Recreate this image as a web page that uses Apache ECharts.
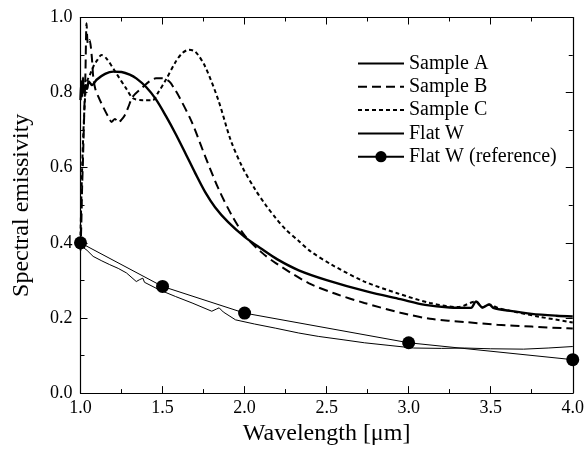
<!DOCTYPE html>
<html>
<head>
<meta charset="utf-8">
<script src="https://cdn.jsdelivr.net/npm/echarts@6/dist/echarts.min.js"></script>
<style>
  html, body { margin: 0; padding: 0; background: #fff; }
  #main { width: 587px; height: 451px; }
</style>
</head>
<body>
<div id="main"></div>
<script>
// values
const aWl = [1.0, 1.005, 1.01, 1.015, 1.02, 1.03, 1.04, 1.05, 1.07, 1.1, 1.15, 1.2, 1.25, 1.3, 1.34, 1.4, 1.46, 1.52, 1.58, 1.64, 1.7, 1.76, 1.82, 1.9, 2.0, 2.1, 2.2, 2.33, 2.5, 2.75, 2.95, 3.1, 3.25, 3.38, 3.41, 3.45, 3.49, 3.52, 3.6, 3.75, 3.9, 4.0];
const aEm = [0.78, 0.83, 0.79, 0.84, 0.8, 0.82, 0.81, 0.83, 0.82, 0.835, 0.85, 0.856, 0.855, 0.848, 0.838, 0.815, 0.782, 0.738, 0.69, 0.638, 0.585, 0.535, 0.495, 0.455, 0.416, 0.385, 0.356, 0.327, 0.301, 0.27, 0.25, 0.235, 0.228, 0.227, 0.244, 0.228, 0.236, 0.226, 0.22, 0.211, 0.206, 0.204];

const bWl = [1.0, 1.005, 1.01, 1.015, 1.02, 1.025, 1.03, 1.037, 1.045, 1.055, 1.068, 1.078, 1.09, 1.108, 1.14, 1.17, 1.19, 1.21, 1.23, 1.25, 1.27, 1.29, 1.32, 1.38, 1.42, 1.46, 1.5, 1.54, 1.57, 1.6, 1.68, 1.76, 1.84, 1.92, 2.0, 2.1, 2.19, 2.39, 2.55, 2.73, 2.95, 3.13, 3.35, 3.54, 3.75, 3.94, 4.0];
const bEm = [0.38, 0.45, 0.55, 0.62, 0.7, 0.78, 0.85, 0.985, 0.93, 0.94, 0.9, 0.84, 0.81, 0.79, 0.76, 0.735, 0.722, 0.73, 0.72, 0.728, 0.74, 0.76, 0.79, 0.815, 0.83, 0.838, 0.838, 0.83, 0.812, 0.79, 0.72, 0.63, 0.545, 0.475, 0.42, 0.376, 0.346, 0.293, 0.265, 0.24, 0.214, 0.198, 0.189, 0.182, 0.177, 0.173, 0.172];

const cWl = [1.0, 1.01, 1.02, 1.03, 1.04, 1.06, 1.078, 1.1, 1.128, 1.16, 1.22, 1.28, 1.32, 1.38, 1.44, 1.47, 1.52, 1.58, 1.62, 1.66, 1.70, 1.76, 1.84, 1.915, 1.985, 2.066, 2.13, 2.19, 2.25, 2.33, 2.4, 2.53, 2.73, 2.93, 3.13, 3.3, 3.41, 3.45, 3.49, 3.55, 3.64, 3.8, 4.0];
const cEm = [0.42, 0.6, 0.72, 0.8, 0.83, 0.85, 0.869, 0.885, 0.9, 0.89, 0.85, 0.81, 0.785, 0.78, 0.78, 0.798, 0.834, 0.882, 0.905, 0.914, 0.909, 0.869, 0.78, 0.674, 0.603, 0.541, 0.5, 0.466, 0.436, 0.405, 0.378, 0.342, 0.297, 0.266, 0.24, 0.229, 0.244, 0.228, 0.236, 0.226, 0.217, 0.203, 0.188];

const wWl = [1.0, 1.01, 1.04, 1.077, 1.13, 1.178, 1.23, 1.28, 1.34, 1.36, 1.37, 1.38, 1.39, 1.4, 1.48, 1.58, 1.68, 1.8, 1.83, 1.845, 1.87, 1.945, 2.06, 2.187, 2.33, 2.449, 2.6, 2.73, 2.88, 3.03, 3.2, 3.34, 3.5, 3.7, 3.85, 4.0];
const wEm = [0.4, 0.39, 0.38, 0.364, 0.352, 0.342, 0.332, 0.32, 0.297, 0.302, 0.298, 0.306, 0.295, 0.293, 0.275, 0.257, 0.24, 0.218, 0.224, 0.227, 0.216, 0.195, 0.184, 0.173, 0.16, 0.151, 0.142, 0.134, 0.127, 0.12, 0.119, 0.12, 0.118, 0.117, 0.12, 0.124];

const refWl = [1.0, 1.5, 2.0, 3.0, 4.0];
const refEm = [0.4, 0.284, 0.213, 0.134, 0.089];

const xTickLabels = ['1.0', '1.5', '2.0', '2.5', '3.0', '3.5', '4.0'];
const yTickLabels = ['0.0', '0.2', '0.4', '0.6', '0.8', '1.0'];

const pairs = (xs, ys) => xs.map((x, i) => [x, ys[i]]);
const font = '"Liberation Serif", "Times New Roman", serif';

const tick = { show: true, inside: true, length: 7, lineStyle: { color: '#000', width: 1 } };
const minor = { show: true, splitNumber: 2, length: 4, lineStyle: { color: '#000', width: 1 } };
const axLine = { show: true, onZero: false, lineStyle: { color: '#000', width: 1.2 } };

const xBase = { type: 'value', min: 1, max: 4, interval: 0.5, axisLine: axLine, axisTick: tick, minorTick: minor, splitLine: { show: false } };
const yBase = { type: 'value', min: 0, max: 1, interval: 0.2, axisLine: axLine, axisTick: tick, minorTick: minor, splitLine: { show: false } };

const noDot = { color: 'rgba(0,0,0,0)', borderColor: 'rgba(0,0,0,0)', borderWidth: 0 };

const option = {
  animation: false,
  backgroundColor: '#fff',
  grid: { left: 80.5, right: 10.5, top: 17.5, bottom: 57.5 },
  xAxis: [
    Object.assign({}, xBase, {
      position: 'bottom',
      name: 'Wavelength [\u03bcm]', nameLocation: 'middle', nameGap: 28,
      nameTextStyle: { fontFamily: font, fontSize: 24, color: '#000' },
      axisLabel: { fontFamily: font, fontSize: 18, color: '#000', margin: 6,
        formatter: v => xTickLabels[Math.round((v - 1) / 0.5)] }
    }),
    Object.assign({}, xBase, { position: 'top', axisLabel: { show: false } })
  ],
  yAxis: [
    Object.assign({}, yBase, {
      position: 'left',
      name: 'Spectral emissivity', nameLocation: 'middle', nameGap: 47,
      nameTextStyle: { fontFamily: font, fontSize: 24, color: '#000' },
      axisLabel: { fontFamily: font, fontSize: 18, color: '#000', margin: 8,
        formatter: v => yTickLabels[Math.round(v / 0.2)] }
    }),
    Object.assign({}, yBase, { position: 'right', axisLabel: { show: false } })
  ],
  legend: {
    orient: 'vertical', left: 352, top: 48.5,
    itemWidth: 46, itemHeight: 14, itemGap: 3.3,
    textStyle: { fontFamily: font, fontSize: 20, lineHeight: 20, color: '#000' },
    data: [
      { name: 'Sample A', itemStyle: noDot },
      { name: 'Sample B', itemStyle: noDot },
      { name: 'Sample C', itemStyle: noDot },
      { name: 'Flat W', itemStyle: noDot },
      { name: 'Flat W (reference)' }
    ]
  },
  series: [
    { name: 'Sample A', type: 'line', data: pairs(aWl, aEm), symbol: 'none', smooth: 0.3,
      lineStyle: { color: '#000', width: 2.4 }, itemStyle: { color: '#000' } },
    { name: 'Sample B', type: 'line', data: pairs(bWl, bEm), symbol: 'none', smooth: 0.3,
      lineStyle: { color: '#000', width: 2, type: [9, 5] }, itemStyle: { color: '#000' } },
    { name: 'Sample C', type: 'line', data: pairs(cWl, cEm), symbol: 'none', smooth: 0.3,
      lineStyle: { color: '#000', width: 2, type: [4, 3] }, itemStyle: { color: '#000' } },
    { name: 'Flat W', type: 'line', data: pairs(wWl, wEm), symbol: 'none',
      lineStyle: { color: '#000', width: 1 }, itemStyle: { color: '#000' } },
    { name: 'Flat W (reference)', type: 'line', data: pairs(refWl, refEm), symbol: 'circle', symbolSize: 13,
      lineStyle: { color: '#000', width: 1 }, itemStyle: { color: '#000' } }
  ]
};

echarts.init(document.getElementById('main')).setOption(option);
</script>
</body>
</html>
